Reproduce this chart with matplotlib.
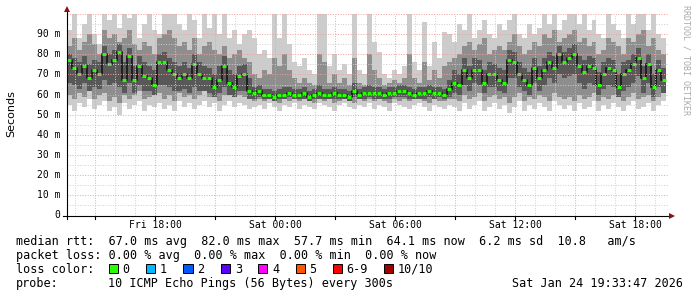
import numpy as np
import matplotlib
matplotlib.use('Agg')
import matplotlib.pyplot as plt
from matplotlib.patches import Rectangle

W, H = 697, 297

# time axis: hours since Fri 00:00, one value every 15 min
start_h = 13 + 33 / 60 + 47 / 3600
step_h = 0.25

median = [77, 73, 70, 74, 68, 72, 70, 80, 75, 77, 81, 67, 79, 67, 74, 69, 68, 65, 76, 76,
          72, 70, 68, 70, 68, 75, 70, 68, 68, 64, 67, 74, 66, 64, 69, 70, 62, 61, 62, 60,
          60, 59, 60, 60, 61, 60, 60, 61, 59, 60, 61, 60, 60, 61, 60, 60, 59, 62, 60, 61,
          61, 61, 61, 60, 61, 61, 62, 62, 61, 60, 61, 61, 62, 61, 61, 60, 63, 66, 65, 72,
          68, 72, 72, 66, 70, 70, 67, 66, 77, 76, 70, 67, 65, 73, 68, 72, 76, 73, 80, 76,
          78, 80, 74, 71, 74, 73, 65, 70, 73, 72, 64, 70, 72, 75, 78, 68, 75, 64, 72, 67]

# outer smoke (lightest)
smoke_hi = [92, 100, 88, 95, 100, 90, 85, 100, 97, 100, 93, 100, 98, 100, 88, 95, 100, 92, 90, 100,
            100, 100, 95, 92, 100, 97, 88, 100, 93, 100, 90, 100, 88, 92, 85, 90,
            92, 88, 80, 82, 78, 100, 88, 100, 85, 76, 74, 78, 72, 70, 100, 100, 74, 80, 72, 75,
            70, 100, 72, 70, 100, 86, 81, 70, 68, 72, 70, 74, 100, 76, 72, 96, 74, 86, 78, 91, 90,
            86, 95, 92, 100, 88, 92, 97, 90, 88, 95, 92, 97, 100, 90, 88, 95, 90, 93, 100, 95, 100, 92, 97,
            100, 100, 95, 100, 92, 97, 90, 88, 100, 95, 92, 88, 100, 95, 100, 100, 92, 100, 90, 88]
smoke_lo = [55, 52, 56, 54, 58, 53, 55, 57, 52, 54, 50, 56, 53, 55, 57, 52, 55, 54, 56, 53,
            55, 52, 57, 54, 56, 53, 55, 57, 54, 56, 52, 55, 57, 54, 56, 55, 53,
            54, 55, 53, 56, 54, 52, 55, 54, 56, 53, 55, 54, 53, 56, 55, 54, 52, 55, 56, 54,
            53, 55, 54, 56, 53, 55, 54, 52, 56, 55, 54, 53, 55, 56, 54, 52, 55, 54, 53, 55,
            54, 52, 56, 53, 55, 57, 52, 54, 56, 53, 55, 51, 54, 57, 52, 55, 53, 56, 54, 52, 57, 55, 53,
            55, 52, 56, 53, 54, 57, 52, 55, 53, 56, 54, 52, 55, 57, 53, 54, 56, 52, 55, 57]

# middle smoke
mid_hi = [84, 88, 82, 86, 90, 85, 80, 92, 88, 90, 86, 88, 92, 85, 82, 86, 84, 80, 88, 90,
          92, 88, 84, 86, 82, 88, 80, 84, 86, 82, 80, 84, 78, 80, 82, 78, 76,
          70, 68, 72, 70, 78, 74, 80, 72, 68, 66, 68, 66, 65, 80, 76, 66, 70, 66, 68, 65,
          78, 66, 65, 80, 72, 68, 65, 66, 67, 66, 68, 80, 68, 66, 76, 67, 72, 68, 74, 76,
          78, 80, 84, 86, 82, 85, 88, 80, 82, 84, 82, 86, 90, 84, 80, 82, 86, 84, 90, 88, 92, 86, 88,
          90, 92, 86, 88, 84, 86, 80, 82, 88, 86, 84, 80, 88, 86, 90, 92, 84, 88, 82, 80]
mid_lo = [60, 58, 61, 59, 62, 58, 60, 61, 57, 59, 56, 60, 58, 60, 62, 58, 59, 60, 61, 58,
          60, 57, 61, 59, 60, 58, 60, 62, 59, 60, 57, 60, 61, 59, 60, 59, 58,
          57, 58, 57, 58, 57, 56, 58, 57, 58, 57, 58, 57, 56, 58, 57, 58, 56, 57, 58, 57,
          56, 58, 57, 58, 57, 58, 57, 56, 58, 57, 58, 57, 58, 58, 57, 56, 58, 57, 57, 58,
          58, 57, 60, 58, 59, 61, 57, 59, 60, 58, 59, 56, 59, 61, 57, 59, 58, 60, 59, 57, 61, 59, 58,
          59, 57, 60, 58, 59, 61, 57, 59, 58, 60, 59, 57, 59, 61, 58, 59, 60, 57, 59, 61]

# inner smoke (darkest)
dark_hi = [80, 78, 76, 79, 75, 77, 76, 84, 80, 82, 85, 76, 83, 74, 79, 76, 74, 72, 80, 81,
           78, 76, 74, 76, 73, 80, 76, 74, 73, 70, 74, 79, 72, 70, 74, 75, 68,
           64, 65, 63, 63, 62, 63, 64, 64, 63, 63, 64, 62, 63, 65, 63, 63, 64, 63, 63, 62,
           66, 63, 64, 65, 64, 64, 63, 64, 64, 65, 65, 64, 63, 64, 64, 65, 64, 64, 63, 67,
           72, 70, 78, 74, 78, 77, 72, 76, 75, 73, 72, 82, 81, 76, 73, 71, 78, 74, 78, 81, 79, 84, 81,
           83, 85, 79, 77, 79, 78, 71, 76, 78, 77, 70, 76, 77, 80, 83, 74, 80, 70, 77, 73]
dark_lo = [66, 65, 63, 66, 62, 64, 63, 67, 65, 66, 64, 61, 66, 61, 65, 62, 62, 60, 65, 65,
           64, 62, 62, 63, 61, 64, 62, 62, 61, 59, 61, 64, 60, 59, 62, 62, 58,
           58, 59, 58, 58, 57, 58, 58, 59, 58, 58, 58, 57, 58, 58, 58, 58, 58, 58, 58, 57,
           59, 58, 58, 59, 58, 58, 58, 58, 59, 59, 59, 58, 58, 58, 58, 59, 58, 59, 58, 59,
           61, 60, 65, 62, 66, 65, 61, 64, 64, 62, 61, 68, 68, 64, 62, 60, 66, 62, 65, 68, 66, 70, 68,
           69, 70, 66, 63, 66, 65, 60, 63, 65, 64, 59, 62, 64, 66, 69, 61, 66, 59, 64, 61]

tick_hours = [18, 24, 30, 36, 42]
tick_labels = ['Fri 18:00', 'Sat 00:00', 'Sat 06:00', 'Sat 12:00', 'Sat 18:00']
y_ticks = [0, 10, 20, 30, 40, 50, 60, 70, 80, 90]
y_labels = ['0', '10 m', '20 m', '30 m', '40 m', '50 m', '60 m', '70 m', '80 m', '90 m']

stat_lines = [
    'median rtt:  67.0 ms avg  82.0 ms max  57.7 ms min  64.1 ms now  6.2 ms sd  10.8   am/s',
    'packet loss: 0.00 % avg  0.00 % max  0.00 % min  0.00 % now',
]
loss_labels = ['0', '1', '2', '3', '4', '5', '6-9', '10/10']
loss_colors = ['#26ff00', '#00b8ff', '#0059ff', '#5e00ff', '#ff00ff', '#ff5500', '#ff0000', '#a10000']
probe_text = '10 ICMP Echo Pings (56 Bytes) every 300s'
stamp_text = 'Sat Jan 24 19:33:47 2026'

mono = 'DejaVu Sans Mono'
fig = plt.figure(figsize=(W / 100, H / 100), dpi=100)

def fx(x):
    return x / W

def fy(y):
    return 1 - y / H

x0, x1, y0, y1 = 66.5, 668.5, 215.5, 14.0
ax = fig.add_axes([fx(x0), fy(y0), (x1 - x0) / W, (y0 - y1) / H])
end_h = start_h + (x1 - x0) / 20
ax.set_xlim(start_h, end_h)
ax.set_ylim(0, 100)

n = len(median)
edges = start_h + step_h * np.arange(n + 1)
centers = edges[:-1] + step_h / 2

def band(lo, hi, color):
    ax.fill_between(edges, list(lo) + [lo[-1]], list(hi) + [hi[-1]],
                    step='post', color=color, lw=0, zorder=1)

band(smoke_lo, smoke_hi, '#cccccc')
band(mid_lo, mid_hi, '#8e8e8e')
band(dark_lo, dark_hi, '#585858')

# median: black connectors with green marks
ax.step(centers, median, where='mid', color='#1a1a1a', lw=1.3, zorder=2)
ax.hlines(median, centers - 0.08, centers + 0.08, color='#26ff00', lw=2.2, zorder=2)

# grid, drawn on top like rrdtool does
dots = (0, (1, 1.6))
for h in np.arange(14, 44):
    major = h % 3 == 0
    ax.axvline(h, color='#f0a0a0' if major else '#cfcfcf', lw=0.7, ls=dots, zorder=3)
for v in range(5, 101, 5):
    major = v % 10 == 0
    ax.axhline(v, color='#f0a0a0' if major else '#cfcfcf', lw=0.7, ls=dots, zorder=3)

for s in ax.spines.values():
    s.set_visible(False)
ax.set_xticks([])
ax.set_yticks([])

# axes lines and arrows
fig.add_artist(plt.Line2D([fx(x0), fx(x0)], [fy(y0 + 3), fy(10)], color='black', lw=0.8))
fig.add_artist(plt.Line2D([fx(x0 - 4), fx(672)], [fy(y0), fy(y0)], color='black', lw=0.8))
fig.add_artist(plt.Line2D([fx(x0)], [fy(9)], marker='^', ms=4, color='#8b1010', mew=0))
fig.add_artist(plt.Line2D([fx(672)], [fy(y0)], marker='>', ms=4, color='#8b1010', mew=0))

for h in np.arange(15, 44, 3):
    px = x0 + (h - start_h) * 20
    fig.add_artist(plt.Line2D([fx(px), fx(px)], [fy(y0), fy(y0 + 3)], color='black', lw=0.8))

for h, lab in zip(tick_hours, tick_labels):
    px = x0 + (h - start_h) * 20
    fig.text(fx(px), fy(225), lab, family=mono, fontsize=7, ha='center', va='center')
for v, lab in zip(y_ticks, y_labels):
    py = y0 - v * (y0 - y1) / 100
    fig.text(fx(60.5), fy(py), lab, family=mono, fontsize=7, ha='right', va='center')

fig.text(fx(11), fy(114), 'Seconds', fontsize=8, rotation=90, ha='center', va='center')
fig.text(fx(686), fy(5), 'RRDTOOL / TOBI OETIKER', family=mono, fontsize=6,
         rotation=270, ha='center', va='top', color='#aaaaaa')

# legend block
rows = [245, 259, 273, 287]
for y, line in zip(rows, stat_lines):
    fig.text(fx(16), fy(y), line, family=mono, fontsize=8.5, va='baseline')
fig.text(fx(16), fy(rows[2]), 'loss color:', family=mono, fontsize=8.5, va='baseline')
sq_x = [108.5, 146, 183.5, 221, 258, 295.5, 332.5, 384]
for x, lab, c in zip(sq_x, loss_labels, loss_colors):
    fig.add_artist(Rectangle((fx(x), fy(rows[2])), 9 / W, 9 / H, facecolor=c,
                             edgecolor='black', lw=0.7))
    fig.text(fx(x + 14), fy(rows[2]), lab, family=mono, fontsize=8.5, va='baseline')
fig.text(fx(16), fy(rows[3]), 'probe:', family=mono, fontsize=8.5, va='baseline')
fig.text(fx(108.5), fy(rows[3]), probe_text, family=mono, fontsize=8.5, va='baseline')
fig.text(fx(683), fy(rows[3]), stamp_text, family=mono, fontsize=8.5, va='baseline', ha='right')

fig.savefig('out.png', dpi=100)
